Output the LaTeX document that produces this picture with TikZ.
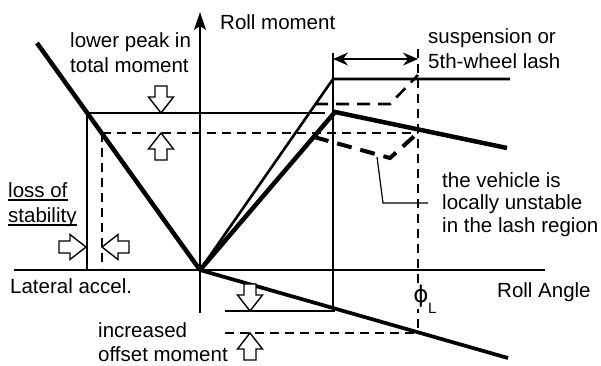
\documentclass[tikz,border=0pt]{standalone}
\usepackage{fontspec}
\setmainfont{Liberation Sans}
\newfontfamily\djv{DejaVu Sans}
\usetikzlibrary{arrows.meta,calc}
\tikzset{
  thinln/.style={line width=1.2pt},
  thindsh/.style={line width=1.2pt, dash pattern=on 9pt off 6pt},
  medln/.style={line width=2.6pt},
  meddsh/.style={line width=2.6pt, dash pattern=on 13pt off 8pt},
  boldln/.style={line width=4.5pt},
  lowln/.style={line width=3.7pt},
  bolddsh/.style={line width=4pt, dash pattern=on 15pt off 9pt},
  barrow/.style={draw, fill=white, line width=1.4pt, line join=miter},
  lbl/.style={inner sep=0pt, anchor=base west, font=\fontsize{20.5}{23}\selectfont},
  barrdown/.pic={\path[barrow] (0,0) -- (-12.5,-16) -- (-6,-16) -- (-6,-27) -- (6,-27) -- (6,-16) -- (12.5,-16) -- cycle;},
  barrup/.pic={\path[barrow] (0,0) -- (-12.5,16) -- (-6,16) -- (-6,27) -- (6,27) -- (6,16) -- (12.5,16) -- cycle;},
  barrright/.pic={\path[barrow] (0,0) -- (-16,-12.5) -- (-16,-6) -- (-27,-6) -- (-27,6) -- (-16,6) -- (-16,12.5) -- cycle;},
  barrleft/.pic={\path[barrow] (0,0) -- (16,-12.5) -- (16,-6) -- (27,-6) -- (27,6) -- (16,6) -- (16,12.5) -- cycle;},
}
\begin{document}
\begin{tikzpicture}[x=1pt,y=-1pt]
\useasboundingbox (0,0) rectangle (601,365);
% key points
\coordinate (O) at (200,270);
\coordinate (vtop) at (200,12);
\coordinate (vbot) at (200,313);
\coordinate (hl) at (14,270);
\coordinate (hr) at (545,270);
\coordinate (L1) at (37,43);
\coordinate (K1) at (333,79);
\coordinate (T2) at (510,79);
\coordinate (K2) at (335,112);
\coordinate (B2) at (507,148);
\coordinate (Lo) at (508,358);
\coordinate (P1) at (87,113);
\coordinate (P2) at (102,133);
\coordinate (D1) at (333,59);
\coordinate (D2) at (418,59);

% thin reference lines
\draw[thinln] (P1) -- (325,113);
\draw[thinln] (P1) -- (87,270);
\draw[thindsh] (P2) -- (418,133);
\draw[thindsh] (P2) -- (102,268);
\draw[thinln] (333,53) -- (333,311);
\draw[thinln] (225,311) -- (335,311);
\draw[thindsh] (225,333) -- (418,333);
\draw[thindsh] (418,49) -- (418,333);
\draw[thinln] (377,157) -- (383,203) -- (428,203);

% axes
\draw[thinln] (hl) -- (hr);
\draw[thinln, -{Stealth[length=18pt,width=12pt,inset=4pt]}] (vbot) -- (vtop);

% dimension arrow
\draw[line width=1.3pt, {Stealth[length=15pt,width=13pt,inset=5pt]}-{Stealth[length=15pt,width=13pt,inset=5pt]}] (D1) -- (D2);

% curves
\draw[medln, line join=miter] (O) -- (K1) -- (T2);
\draw[meddsh] (315,104) -- (390,104) -- (418,75);
\draw[boldln, line join=miter] (O) -- (K2) -- (B2);
\draw[bolddsh] (314,137) -- (390,158) -- (420,131);
\draw[boldln] (L1) -- (O);
\draw[lowln] (O) -- (Lo);

% block arrows
\pic at (161,113) {barrdown};
\pic at (161,133) {barrup};
\pic at (86,247) {barrright};
\pic at (102,247) {barrleft};
\pic at (250,311) {barrdown};
\pic at (250,333) {barrup};

% labels
\node[lbl] (t1) at (220,29) {Roll moment};
\node[lbl] (t2) at (70,47) {lower peak in};
\node[lbl] (t3) at (70,72) {total moment};
\node[lbl] (t4) at (428,43) {suspension or};
\node[lbl] (t5) at (428,68) {5th-wheel lash};
\node[lbl] (t6) at (442,187) {the vehicle is};
\node[lbl] (t7) at (442,209) {locally unstable};
\node[lbl] (t8) at (442,232) {in the lash region};
\node[lbl] (t9) at (8,197) {loss of};
\node[lbl] (t10) at (8,222) {stability};
\draw[thinln] ($(t9.base west)+(0,3)$) -- ($(t9.base east)+(0,3)$);
\draw[thinln] ($(t10.base west)+(0,3)$) -- ($(t10.base east)+(0,3)$);
\node[lbl] (t11) at (10,293) {Lateral accel.};
\node[lbl] (t12) at (98,337) {increased};
\node[lbl] (t13) at (98,361) {offset moment};
\node[lbl] (t14) at (497,297) {Roll Angle};
\node[fill=white, inner xsep=1pt, inner ysep=2pt, anchor=base] (t15) at (421,302) {\djv\fontsize{23}{23}\selectfont ϕ};
\node[inner sep=0pt, anchor=base west, font=\fontsize{15}{15}\selectfont] (t16) at (428,313) {L};
\end{tikzpicture}
\end{document}
